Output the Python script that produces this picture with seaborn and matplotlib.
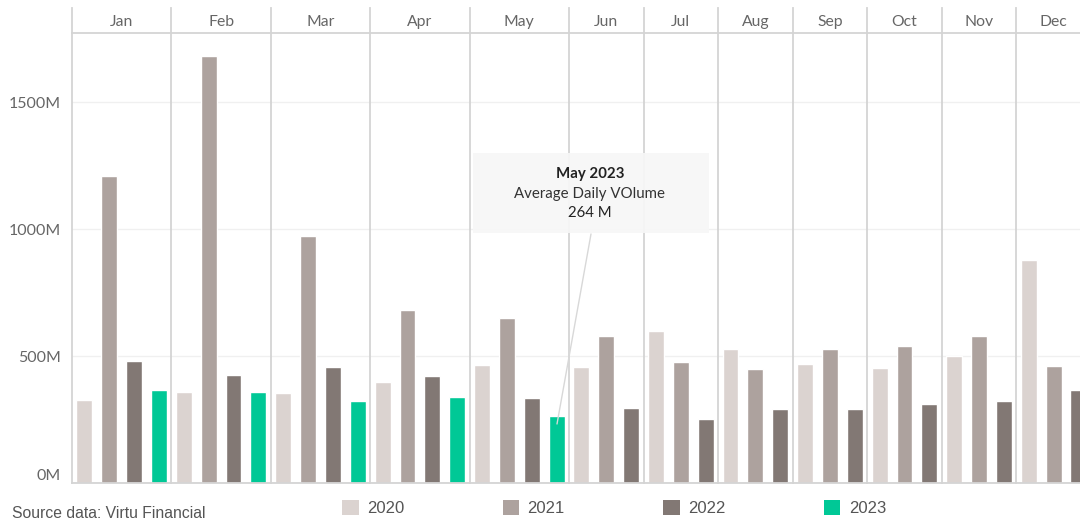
import numpy as np
import pandas as pd
import matplotlib.pyplot as plt
import seaborn as sns
from matplotlib.patches import Rectangle
from matplotlib.lines import Line2D

months = ['Jan', 'Feb', 'Mar', 'Apr', 'May', 'Jun',
          'Jul', 'Aug', 'Sep', 'Oct', 'Nov', 'Dec']
years = ['2020', '2021', '2022', '2023']
vol_2020 = [325, 357, 353, 396, 463, 455, 600, 529, 467, 451, 502, 878]
vol_2021 = [1208, 1682, 973, 682, 651, 580, 475, 447, 529, 541, 580, 459]
vol_2022 = [482, 427, 455, 420, 333, 294, 251, 290, 290, 310, 322, 365]
vol_2023 = [365, 357, 322, 337, 264]
colors = ['#dbd3d0', '#ada29e', '#827874', '#00c896']

rows = []
for yr, vals in zip(years, [vol_2020, vol_2021, vol_2022, vol_2023]):
    for m, v in zip(months, vals):
        rows.append({'Month': m, 'Year': yr, 'Volume': v})
df = pd.DataFrame(rows)

sns.set_style('white')
plt.rcParams['font.family'] = ['Lato', 'DejaVu Sans']

W, H = 1080, 521
fig = plt.figure(figsize=(W / 100, H / 100), dpi=100)

def fx(px):
    return px / W

def fy(py):
    return 1 - py / H

sep = '#d4d4d4'
txt = '#666666'
pal = dict(zip(years, colors))
step = 24.85
left = 72
for i, m in enumerate(months):
    sub = df[df['Month'] == m]
    n = len(sub)
    w = step * n
    ax = fig.add_axes([fx(left), fy(483), w / W, 450 / H])
    sns.barplot(data=sub, x='Year', y='Volume', hue='Year', order=years[:n],
                hue_order=years, palette=pal, width=0.64, legend=False,
                saturation=1, ax=ax)
    ax.set_xlim(-0.5, n - 0.5)
    ax.set_ylim(0, 1772)
    ax.set_xlabel('')
    ax.set_ylabel('')
    ax.set_xticks([])
    ax.set_yticks([0, 500, 1000, 1500])
    ax.yaxis.grid(True, color='#f0f0f0', linewidth=1)
    ax.set_axisbelow(True)
    for s in ['top', 'right']:
        ax.spines[s].set_visible(False)
    ax.spines['left'].set_color(sep)
    ax.spines['left'].set_linewidth(1.3)
    ax.spines['bottom'].set_color(sep)
    ax.spines['bottom'].set_linewidth(1.3)
    if i == 0:
        ax.set_yticklabels(['0M', '500M', '1000M', '1500M'])
        ax.tick_params(axis='y', length=6, color='#eeeeee', labelcolor=txt,
                       labelsize=11.5, pad=2)
        ax.get_yticklabels()[0].set_verticalalignment('bottom')
    else:
        ax.tick_params(axis='y', length=0, labelleft=False)

    hx = fig.add_axes([fx(left), fy(33), w / W, 25 / H])
    hx.set_xticks([])
    hx.set_yticks([])
    for s in ['top', 'right']:
        hx.spines[s].set_visible(False)
    hx.spines['left'].set_color(sep)
    hx.spines['left'].set_linewidth(1.3)
    hx.spines['bottom'].set_color(sep)
    hx.spines['bottom'].set_linewidth(1.3)
    hx.text(0.5, 0.45, m, ha='center', va='center', color=txt, fontsize=11.3,
            transform=hx.transAxes)
    left += w

# tooltip
fig.add_artist(Rectangle((fx(473), fy(233)), 236 / W, 80 / H,
                         transform=fig.transFigure, facecolor='#f7f7f7',
                         alpha=0.92, edgecolor='none', zorder=5))
fig.add_artist(Line2D([fx(591), fx(557)], [fy(234), fy(424)],
                      transform=fig.transFigure, color='#d8d8d8',
                      linewidth=1, zorder=6))
fig.text(fx(590), fy(174), 'May 2023', ha='center', va='center',
         fontsize=10.8, fontweight='bold', color='#222222', zorder=7)
fig.text(fx(590), fy(194), 'Average Daily VOlume', ha='center', va='center',
         fontsize=10.8, color='#333333', zorder=7)
fig.text(fx(590), fy(213), '264 M', ha='center', va='center',
         fontsize=10.8, color='#222222', zorder=7)

handles = [Rectangle((0, 0), 1, 1, facecolor=c, edgecolor='none') for c in colors]
fig.legend(handles, years, loc='center', bbox_to_anchor=(fx(614), fy(508)),
           ncol=4, frameon=False, handlelength=1.0, handleheight=1.0,
           handletextpad=0.5, columnspacing=5.9,
           prop={'family': 'Liberation Sans', 'size': 12}, labelcolor='#555555')

fig.text(fx(12), fy(514), 'Source data: Virtu Financial', ha='left',
         va='center', fontsize=11.3, color='#555555', family='Liberation Sans')

fig.savefig('out.png', dpi=100)
